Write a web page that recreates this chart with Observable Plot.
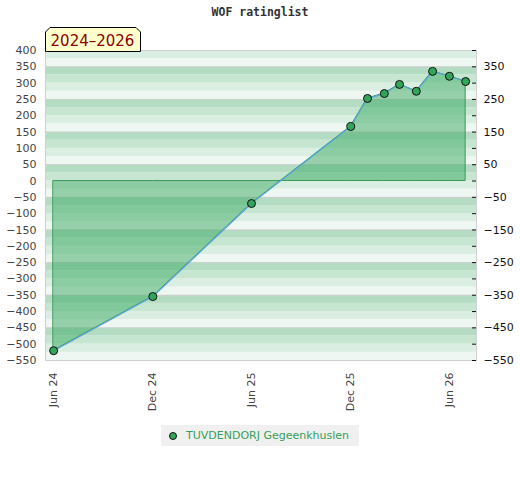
<!DOCTYPE html>
<html>
<head>
<meta charset="utf-8">
<script src="https://cdn.jsdelivr.net/npm/d3@7"></script>
<script src="https://cdn.jsdelivr.net/npm/@observablehq/plot@0.6"></script>
<style>
  html, body { margin: 0; padding: 0; background: #fff; }
  #wrap { position: relative; width: 520px; height: 480px; }
  #title { position: absolute; top: 5px; left: 0; width: 520px; text-align: center;
           font: bold 11.5px "DejaVu Sans Mono", monospace; color: #333; }
  #badge { position: absolute; left: 45px; top: 27px; }
  #legend { position: absolute; left: 161px; top: 425px; width: 198px; height: 21px;
            background: #f0f0f0; font: 11px "DejaVu Sans", sans-serif; color: #36a05a; }
  #legend .dot { position: absolute; left: 7.5px; top: 7px; width: 6px; height: 6px; border-radius: 50%;
                 background: #33a55a; border: 1px solid #111; }
  #legend .lab { position: absolute; left: 25px; top: 4px; white-space: nowrap; }
</style>
</head>
<body>
<div id="wrap">
  <div id="chart"></div>
  <div id="title">WOF ratinglist</div>
  <svg id="badge" width="98" height="25">
    <polygon points="0.5,24.5 0.5,5 5,0.5 91,0.5 95.5,5 95.5,24.5" fill="#ffffcc" stroke="#000" stroke-width="1"/>
    <text x="47.5" y="18.5" text-anchor="middle" fill="#8b0000" font-family="DejaVu Sans" font-size="15">2024–2026</text>
  </svg>
  <div id="legend"><span class="dot"></span><span class="lab">TUVDENDORJ Gegeenkhuslen</span></div>
</div>
<script>
const dates = ["2024-06-01", "2024-12-01", "2025-06-01", "2025-12-01", "2026-01-01", "2026-02-01",
               "2026-03-01", "2026-04-01", "2026-05-01", "2026-06-01", "2026-07-01"];
const ratings = [-520, -354, -69, 167, 253, 268, 296, 275, 336, 321, 305];
const xTickDates = ["2024-06-01", "2024-12-01", "2025-06-01", "2025-12-01", "2026-06-01"];
const yTicks = d3.range(-550, 401, 50);
const yLabelledRight = yTicks.filter(v => ((v % 100) + 100) % 100 === 50);
const xDomain = [new Date("2024-05-17"), new Date("2026-07-21")];
const yDomain = [-550, 400];

const data = dates.map((d, i) => ({date: new Date(d), rating: ratings[i]}));

// background stripes (25-unit bands, 100-unit period)
const bandShade = {25: "#b3dcc3", 0: "#c7e6d2", 75: "#dbeee2", 50: "#eef7f1"};
const bands = d3.range(-550, 400, 25).map(lo => ({lo, hi: lo + 25, fill: bandShade[((lo % 100) + 100) % 100]}));

const chart = Plot.plot({
  width: 520,
  height: 480,
  marginTop: 50,
  marginBottom: 120,
  marginLeft: 45,
  marginRight: 44,
  style: {fontFamily: "DejaVu Sans", fontSize: "11px", background: "transparent"},
  x: {type: "utc", domain: xDomain},
  y: {domain: yDomain},
  marks: [
    Plot.rect(bands, {x1: () => xDomain[0], x2: () => xDomain[1], y1: "lo", y2: "hi", fill: "fill"}),
    Plot.ruleY(yLabelledRight, {stroke: "#cfcfcf", strokeWidth: 1}),
    Plot.areaY(data, {x: "date", y: "rating", fill: "rgb(60,170,100)", fillOpacity: 0.5,
                      stroke: "#3a9a5a", strokeWidth: 1}),
    Plot.line(data, {x: "date", y: "rating", stroke: "#5aa6dc", strokeWidth: 1.2}),
    Plot.dot(data, {x: "date", y: "rating", r: 4, fill: "#33a55a", stroke: "#111", strokeWidth: 1}),
    Plot.frame({stroke: "#d0d0d0", strokeWidth: 1}),
    Plot.axisY({anchor: "left", ticks: yTicks, tickSize: 0, tickPadding: 9, fill: "#444", label: null}),
    Plot.axisY({anchor: "right", ticks: yLabelledRight, tickSize: 0, tickPadding: 7, fill: "#111", label: null}),
    Plot.axisY({anchor: "right", ticks: yTicks, tickSize: 4, text: null, dx: -5, stroke: "#111", label: null}),
    Plot.axisX({ticks: xTickDates.map(d => new Date(d)), tickFormat: d3.utcFormat("%b %y"),
                tickRotate: -90, tickSize: 0, tickPadding: 12, fill: "#444", label: null})
  ]
});
document.getElementById("chart").appendChild(chart);
</script>
</body>
</html>
